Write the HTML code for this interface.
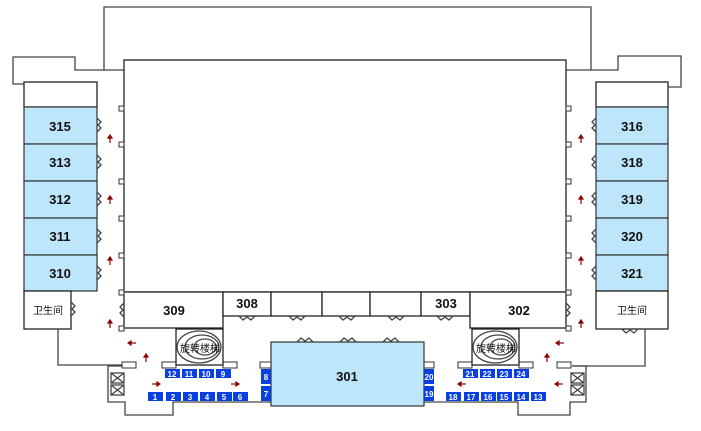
<!DOCTYPE html>
<html><head><meta charset="utf-8"><style>
html,body{margin:0;padding:0;background:#fff;}
svg{display:block;font-family:"Liberation Sans","Noto Sans CJK SC",sans-serif;}
.w{fill:none;stroke:#444;stroke-width:1.3}
.r{fill:#fff;stroke:#222;stroke-width:1.3}
.b{fill:#bde6fb;stroke:#333;stroke-width:1.2}
.n{font-size:13px;font-weight:bold;fill:#111;text-anchor:middle}
.c{font-size:10px;fill:#111;text-anchor:middle}
.bl{fill:#0a3fe0}
.bt{font-size:8px;font-weight:bold;fill:#fff;text-anchor:middle}
.a{stroke:#8b0000;stroke-width:1.2;fill:#8b0000}
.sq{fill:#fff;stroke:#333;stroke-width:1}
</style></head><body>
<svg width="701" height="431" viewBox="0 0 701 431">
<!-- outer top -->
<polyline class="w" points="104,70 104,7 591,7 591,70"/>
<polyline class="w" points="124,70 75,70 75,57 13,57 13,84 24,84"/>
<polyline class="w" points="566,70 618,70 618,56 681,56 681,87 668,87"/>
<!-- main -->
<rect class="r" x="124" y="60" width="442" height="232"/>
<!-- bottom row rooms -->
<rect class="r" x="124" y="292" width="99" height="36"/>
<text class="n" x="174" y="315">309</text>
<rect class="r" x="223" y="292" width="48" height="24"/>
<text class="n" x="247" y="308">308</text>
<rect class="r" x="271" y="292" width="51" height="24"/>
<rect class="r" x="322" y="292" width="48" height="24"/>
<rect class="r" x="370" y="292" width="51" height="24"/>
<rect class="r" x="421" y="292" width="49" height="24"/>
<text class="n" x="446" y="308">303</text>
<rect class="r" x="470" y="292" width="96" height="36"/>
<text class="n" x="519" y="315">302</text>
<!-- left tower -->
<rect class="r" x="24" y="82" width="73" height="25"/>
<rect class="b" x="24" y="107" width="73" height="37"/><text class="n" x="60" y="131">315</text>
<rect class="b" x="24" y="144" width="73" height="37"/><text class="n" x="60" y="167">313</text>
<rect class="b" x="24" y="181" width="73" height="37"/><text class="n" x="60" y="204">312</text>
<rect class="b" x="24" y="218" width="73" height="37"/><text class="n" x="60" y="241">311</text>
<rect class="b" x="24" y="255" width="73" height="36"/><text class="n" x="60" y="278">310</text>
<rect class="r" x="24" y="291" width="47" height="38"/><text class="c" x="48" y="314">卫生间</text>
<!-- right tower -->
<rect class="r" x="596" y="82" width="72" height="25"/>
<rect class="b" x="596" y="107" width="72" height="37"/><text class="n" x="632" y="131">316</text>
<rect class="b" x="596" y="144" width="72" height="37"/><text class="n" x="632" y="167">318</text>
<rect class="b" x="596" y="181" width="72" height="37"/><text class="n" x="632" y="204">319</text>
<rect class="b" x="596" y="218" width="72" height="37"/><text class="n" x="632" y="241">320</text>
<rect class="b" x="596" y="255" width="72" height="36"/><text class="n" x="632" y="278">321</text>
<rect class="r" x="596" y="291" width="72" height="38"/><text class="c" x="632" y="314">卫生间</text>
<!-- squares on main wall -->
<g class="sq">
<rect x="119" y="106" width="5" height="5"/><rect x="119" y="142" width="5" height="5"/><rect x="119" y="179" width="5" height="5"/><rect x="119" y="216" width="5" height="5"/><rect x="119" y="253" width="5" height="5"/><rect x="119" y="290" width="5" height="5"/><rect x="119" y="326" width="5" height="5"/>
<rect x="566" y="106" width="5" height="5"/><rect x="566" y="142" width="5" height="5"/><rect x="566" y="179" width="5" height="5"/><rect x="566" y="216" width="5" height="5"/><rect x="566" y="253" width="5" height="5"/><rect x="566" y="290" width="5" height="5"/><rect x="566" y="326" width="5" height="5"/>
</g>
<!-- doors -->
<g class="w" stroke-width="1">
<path d="M97,118 l4,4 -3,3 3,3 -4,4"/><path d="M97,155 l4,4 -3,3 3,3 -4,4"/><path d="M97,192 l4,4 -3,3 3,3 -4,4"/><path d="M97,229 l4,4 -3,3 3,3 -4,4"/><path d="M97,266 l4,4 -3,3 3,3 -4,4"/><path d="M71,302 l4,4 -3,3 3,3 -4,4"/><path d="M124,303 l-4,4 3,3 -3,3 4,4"/>
<path d="M596,118 l-4,4 3,3 -3,3 4,4"/><path d="M596,155 l-4,4 3,3 -3,3 4,4"/><path d="M596,192 l-4,4 3,3 -3,3 4,4"/><path d="M596,229 l-4,4 3,3 -3,3 4,4"/><path d="M596,266 l-4,4 3,3 -3,3 4,4"/><path d="M566,303 l4,4 -3,3 3,3 -4,4"/>
<path d="M239,316 l4,4 4,-3 4,3 4,-4"/><path d="M289,316 l4,4 4,-3 4,3 4,-4"/><path d="M339,316 l4,4 4,-3 4,3 4,-4"/><path d="M388,316 l4,4 4,-3 4,3 4,-4"/><path d="M437,316 l4,4 4,-3 4,3 4,-4"/><path d="M622,329 l4,4 4,-3 4,3 4,-4"/>
<path d="M297,342 l4,-4 4,3 4,-3 4,4"/><path d="M340,342 l4,-4 4,3 4,-3 4,4"/><path d="M383,342 l4,-4 4,3 4,-3 4,4"/>
</g>
<!-- lower walls -->
<polyline class="w" points="58,329 58,365 122,365"/>
<polyline class="w" points="122,366 108,366 108,402 125,402 125,415 173,415 173,402 271,402"/>
<polyline class="w" points="645,329 645,366 572,366"/>
<polyline class="w" points="572,366 586,366 586,402 570,402 570,415 518,415 518,402 424,402"/>
<!-- crossed boxes -->
<g class="w" stroke-width="1">
<rect x="111" y="373" width="13" height="10"/><path d="M111,373 L124,383 M124,373 L111,383"/>
<rect x="111" y="385" width="13" height="10"/><path d="M111,385 L124,395 M124,385 L111,395"/>
<rect x="571" y="373" width="13" height="10"/><path d="M571,373 L584,383 M584,373 L571,383"/>
<rect x="571" y="385" width="13" height="10"/><path d="M571,385 L584,395 M584,385 L571,395"/>
</g>
<!-- small rects -->
<g class="sq">
<rect x="122" y="362" width="14" height="6"/><rect x="162" y="362" width="14" height="6"/><rect x="223" y="362" width="14" height="6"/><rect x="260" y="362" width="11" height="6"/>
<rect x="424" y="362" width="10" height="6"/><rect x="458" y="362" width="14" height="6"/><rect x="519" y="362" width="14" height="6"/><rect x="557" y="362" width="14" height="6"/>
</g>
<!-- stairs -->
<rect class="r" x="176" y="329" width="47" height="36"/>
<g class="w" stroke-width="1"><ellipse cx="199" cy="347" rx="22" ry="16"/><ellipse cx="202" cy="347" rx="17" ry="12"/><ellipse cx="205" cy="347" rx="11" ry="8"/></g>
<text class="c" x="200" y="352" font-size="11">旋转楼梯</text>
<rect class="r" x="472" y="329" width="47" height="36"/>
<g class="w" stroke-width="1"><ellipse cx="495" cy="347" rx="22" ry="16"/><ellipse cx="498" cy="347" rx="17" ry="12"/><ellipse cx="501" cy="347" rx="11" ry="8"/></g>
<text class="c" x="496" y="352" font-size="11">旋转楼梯</text>
<!-- 301 -->
<rect class="b" x="271" y="342" width="153" height="64"/>
<text class="n" x="347" y="381">301</text>
<!-- blue booths -->
<g class="bl">
<rect x="148" y="392" width="15" height="9"/><rect x="166" y="392" width="15" height="9"/><rect x="183" y="392" width="15" height="9"/><rect x="200" y="392" width="15" height="9"/><rect x="217" y="392" width="15" height="9"/><rect x="233" y="392" width="15" height="9"/>
<rect x="165" y="369" width="15" height="9"/><rect x="182" y="369" width="15" height="9"/><rect x="199" y="369" width="15" height="9"/><rect x="216" y="369" width="15" height="9"/>
<rect x="261" y="369" width="10" height="15"/><rect x="261" y="386" width="10" height="15"/>
<rect x="424" y="369" width="10" height="15"/><rect x="424" y="386" width="10" height="15"/>
<rect x="446" y="392" width="15" height="9"/><rect x="464" y="392" width="15" height="9"/><rect x="481" y="392" width="15" height="9"/><rect x="497" y="392" width="15" height="9"/><rect x="514" y="392" width="15" height="9"/><rect x="531" y="392" width="15" height="9"/>
<rect x="463" y="369" width="15" height="9"/><rect x="480" y="369" width="15" height="9"/><rect x="497" y="369" width="15" height="9"/><rect x="514" y="369" width="15" height="9"/>
</g>
<g class="bt">
<text x="155" y="400">1</text><text x="173" y="400">2</text><text x="190" y="400">3</text><text x="207" y="400">4</text><text x="224" y="400">5</text><text x="240" y="400">6</text>
<text x="172" y="377">12</text><text x="189" y="377">11</text><text x="206" y="377">10</text><text x="223" y="377">9</text>
<text x="266" y="380">8</text><text x="266" y="397">7</text>
<text x="429" y="380">20</text><text x="429" y="397">19</text>
<text x="453" y="400">18</text><text x="471" y="400">17</text><text x="488" y="400">16</text><text x="504" y="400">15</text><text x="521" y="400">14</text><text x="538" y="400">13</text>
<text x="470" y="377">21</text><text x="487" y="377">22</text><text x="504" y="377">23</text><text x="521" y="377">24</text>
</g>
<!-- arrows -->
<g class="a">
<path d="M110,143 v-6"/><path d="M108,138 l2,-3 2,3z"/>
<path d="M110,204 v-6"/><path d="M108,199 l2,-3 2,3z"/>
<path d="M110,265 v-6"/><path d="M108,260 l2,-3 2,3z"/>
<path d="M110,328 v-6"/><path d="M108,323 l2,-3 2,3z"/>
<path d="M581,143 v-6"/><path d="M579,138 l2,-3 2,3z"/>
<path d="M581,204 v-6"/><path d="M579,199 l2,-3 2,3z"/>
<path d="M581,265 v-6"/><path d="M579,260 l2,-3 2,3z"/>
<path d="M581,328 v-6"/><path d="M579,323 l2,-3 2,3z"/>
<path d="M146,362 v-6"/><path d="M144,357 l2,-3 2,3z"/>
<path d="M547,362 v-6"/><path d="M545,357 l2,-3 2,3z"/>
<path d="M136,343 h-6"/><path d="M131,341 l-3,2 3,2z"/>
<path d="M152,384 h6"/><path d="M157,382 l3,2 -3,2z"/>
<path d="M231,384 h6"/><path d="M236,382 l3,2 -3,2z"/>
<path d="M564,343 h-6"/><path d="M559,341 l-3,2 3,2z"/>
<path d="M466,384 h-6"/><path d="M461,382 l-3,2 3,2z"/>
<path d="M563,384 h-6"/><path d="M558,382 l-3,2 3,2z"/>
</g>
</svg>
</body></html>
